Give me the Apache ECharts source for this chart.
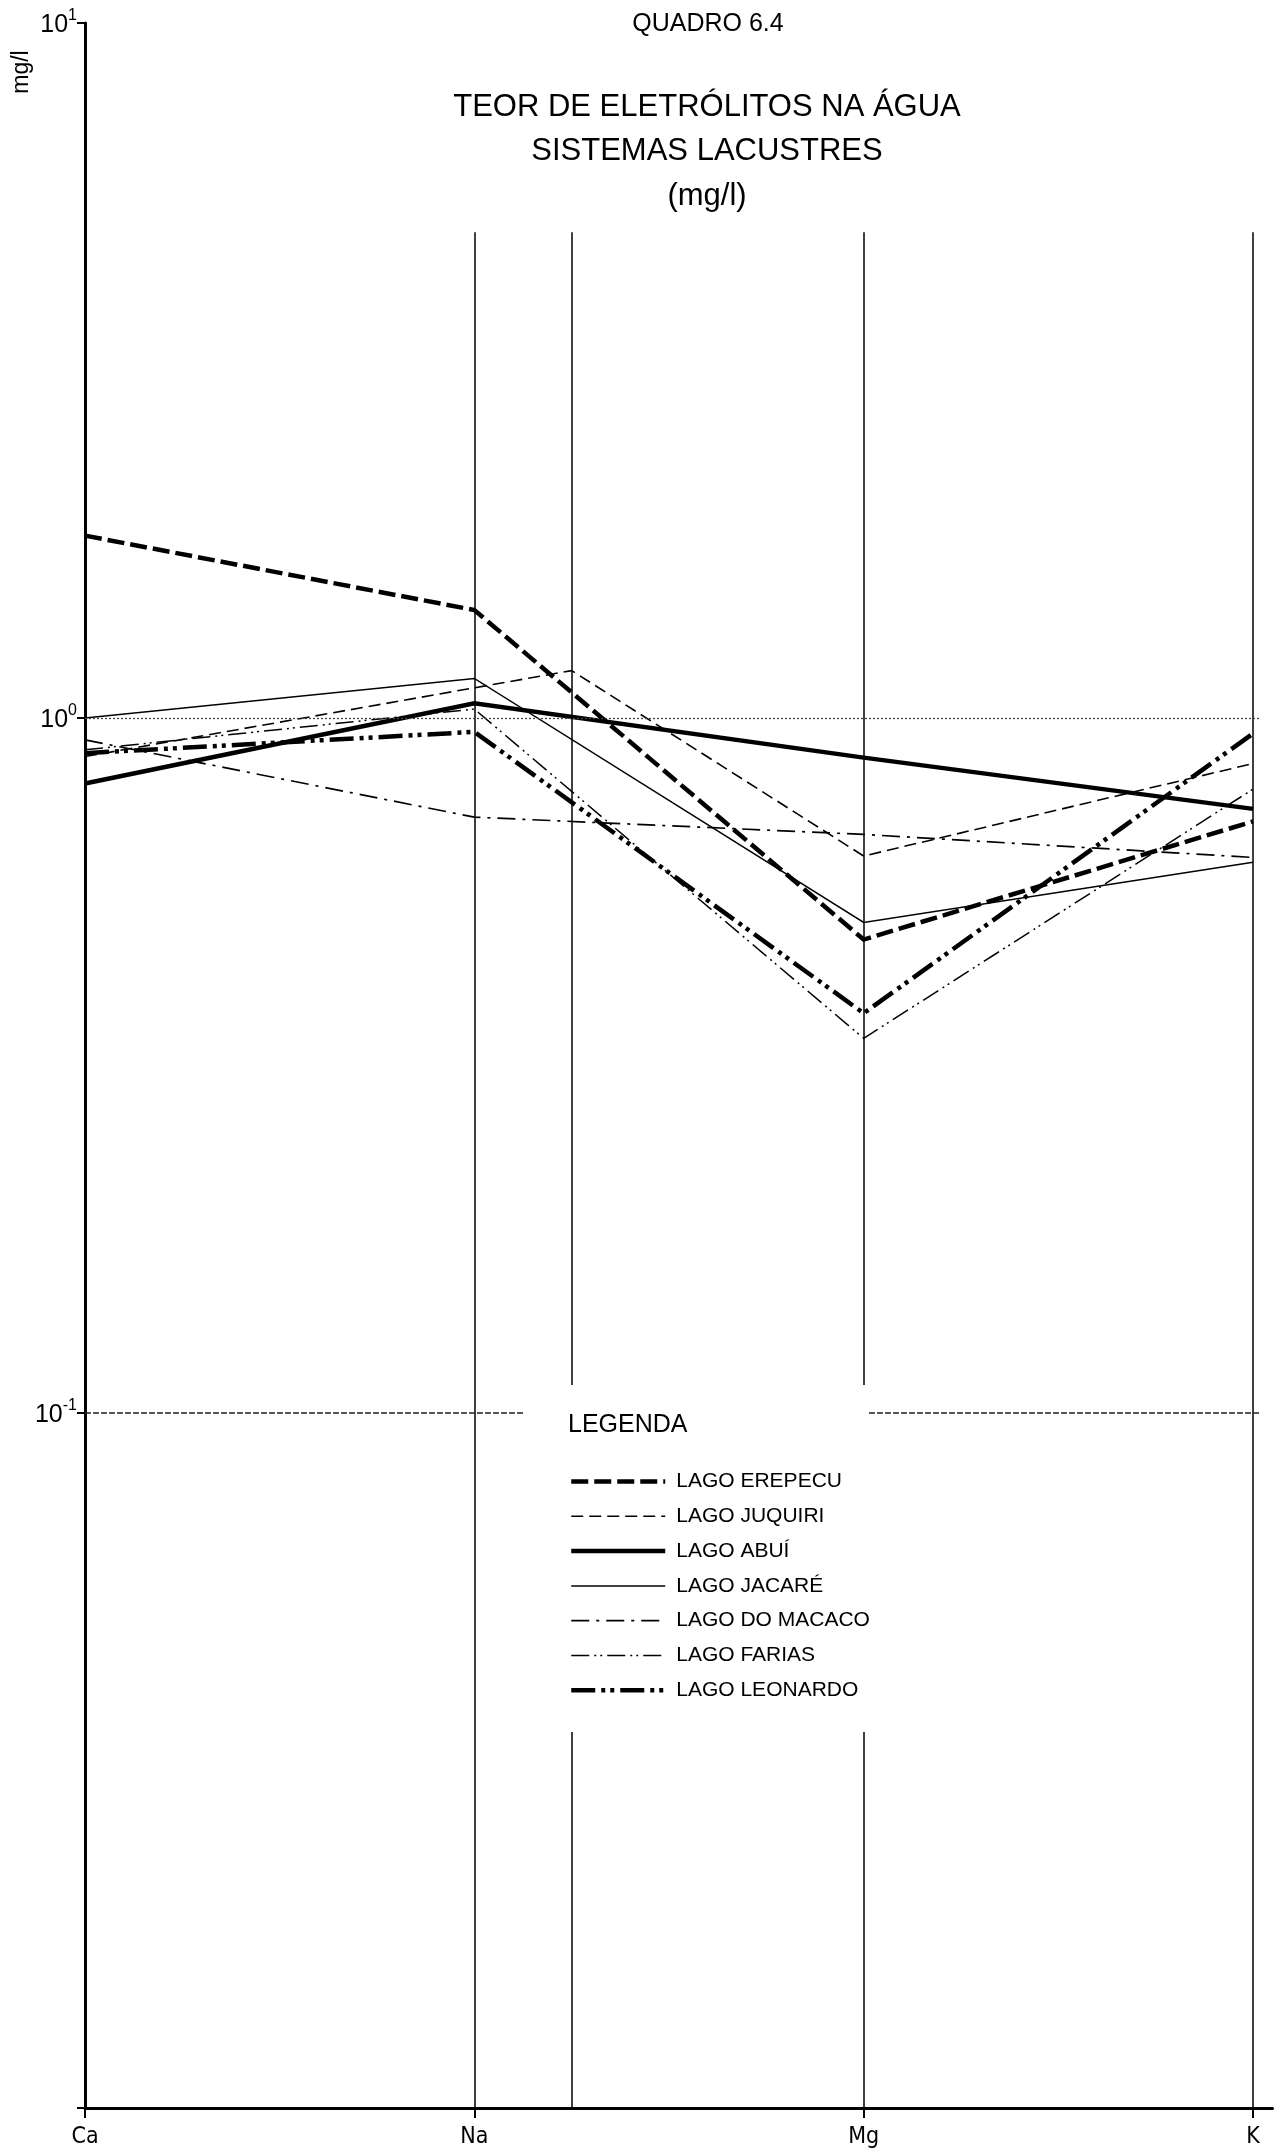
<!DOCTYPE html>
<html><head><meta charset="utf-8">
<script src="https://cdn.jsdelivr.net/npm/echarts@6/dist/echarts.min.js"></script>
<style>html,body{margin:0;padding:0;background:#fff}#chart{width:1281px;height:2154px}</style>
</head><body><div id="chart"></div>
<script>
// ---- data ----
const elements = ['Ca', 'Na', 'Mg', 'K'];
const elementX = [0, 1, 2, 3];
const juquiriX = [0, 1.25, 2, 3];          // Juquiri's Na point is drawn on the extra guide line
const lakeNames = ['LAGO EREPECU', 'LAGO JUQUIRI', 'LAGO ABUÍ', 'LAGO JACARÉ', 'LAGO DO MACACO', 'LAGO FARIAS', 'LAGO LEONARDO'];
const erepecu  = [1.83, 1.43, 0.48, 0.71];
const juquiri  = [0.88, 1.17, 0.633, 0.86];
const abui     = [0.805, 1.05, 0.877, 0.74];
const jacare   = [1.0, 1.14, 0.508, 0.62];
const macaco   = [0.93, 0.72, 0.68, 0.63];
const farias   = [0.90, 1.03, 0.346, 0.79];
const leonardo = [0.89, 0.955, 0.376, 0.95];
const guideX = [1, 1.25, 2, 3];
const guideTop = 5;
const yMin = 0.01, yMax = 10;
const xMin = 0, xMax = 3.05;
const refLines = [1, 0.1];
const refLineEnd = 3.02;

// ---- styles ----
const INK = '#000';
const FONT = "'Liberation Sans', Arial, sans-serif";
const seriesStyles = [
  { width: 4.5, type: [17, 6] },
  { width: 1.6, type: [12, 6] },
  { width: 4.5, type: 'solid' },
  { width: 1.5, type: 'solid' },
  { width: 1.7, type: [18, 7, 3, 7] },
  { width: 1.5, type: [18, 5, 2, 4, 2, 5] },
  { width: 4.5, type: [24, 6, 4, 5, 4, 6] }
];
const seriesX = [elementX, juquiriX, elementX, elementX, elementX, elementX, elementX];
const seriesY = [erepecu, juquiri, abui, jacare, macaco, farias, leonardo];

const pts = (xs, ys) => xs.map((x, i) => [x, ys[i]]);
const styleOf = i => ({ color: INK, width: seriesStyles[i].width, type: seriesStyles[i].type, cap: 'butt', join: 'miter' });

const lineSeries = lakeNames.map((name, i) => ({
  name, type: 'line', data: pts(seriesX[i], seriesY[i]),
  symbol: 'none', showSymbol: false, smooth: false, clip: false, z: 3,
  lineStyle: styleOf(i),
  emphasis: { disabled: true }
}));

const guideSeries = {
  name: 'guides', type: 'line', data: [], silent: true, z: 2,
  markLine: {
    silent: true, symbol: 'none', label: { show: false }, animation: false,
    data: [
      ...guideX.map(x => [{ coord: [x, yMin], lineStyle: { color: INK, width: 1.5, type: 'solid' } }, { coord: [x, guideTop] }]),
      [{ coord: [xMin, refLines[0]], lineStyle: { color: '#444', width: 1.3, type: [2, 2] } }, { coord: [refLineEnd, refLines[0]] }],
      [{ coord: [xMin, refLines[1]], lineStyle: { color: '#222', width: 1.5, type: [6, 2] } }, { coord: [refLineEnd, refLines[1]] }]
    ]
  }
};

const chart = echarts.init(document.getElementById('chart'), null, { renderer: 'canvas' });
chart.setOption({
  animation: false,
  backgroundColor: '#fff',
  title: [
    { text: 'QUADRO 6.4', left: 708, top: 12, textAlign: 'center', padding: 0,
      textStyle: { fontSize: 25, fontWeight: 'normal', color: INK, fontFamily: FONT } },
    { text: 'TEOR DE ELETRÓLITOS NA ÁGUA\nSISTEMAS LACUSTRES\n(mg/l)', left: 707, top: 85, textAlign: 'center', padding: 0,
      textStyle: { fontSize: 31, lineHeight: 44.5, fontWeight: 'normal', color: INK, fontFamily: FONT } }
  ],
  grid: { left: 85, right: 8.5, top: 23, bottom: 46, containLabel: false },
  xAxis: {
    type: 'value', min: xMin, max: xMax, interval: 1,
    axisLine: { lineStyle: { color: INK, width: 3 } },
    axisTick: { show: true, length: 10, customValues: elementX, lineStyle: { color: INK, width: 2 } },
    axisLabel: { margin: 18, fontSize: 23, color: INK, customValues: elementX,
      fontFamily: "'Liberation Sans Narrow', 'DejaVu Sans Condensed', 'Liberation Sans', sans-serif",
      formatter: v => { const k = elementX.indexOf(v); return k >= 0 ? elements[k] : ''; } },
    splitLine: { show: false }
  },
  yAxis: {
    type: 'log', logBase: 10, min: yMin, max: yMax,
    axisLine: { show: true, lineStyle: { color: INK, width: 3 } },
    axisTick: { show: true, length: 8, lineStyle: { color: INK, width: 2 } },
    minorTick: { show: false },
    splitLine: { show: false },
    axisLabel: {
      margin: 8, color: INK,
      formatter: v => { const e = Math.round(Math.log10(v)); return e < -1 ? '' : '{b|10}{s|' + e + '}'; },
      rich: {
        b: { fontSize: 25, fontFamily: FONT, color: INK, lineHeight: 30, verticalAlign: 'bottom' },
        s: { fontSize: 16, fontFamily: FONT, color: INK, lineHeight: 30, verticalAlign: 'top' }
      }
    }
  },
  legend: {
    data: lakeNames.map((name, i) => ({ name, lineStyle: styleOf(i), itemStyle: { opacity: 0 } })),
    orient: 'vertical', left: 569, top: 1471, padding: 0,
    itemWidth: 94, itemHeight: 20, itemGap: 13.8, selectedMode: false, z: 60,
    itemStyle: { opacity: 0 },
    textStyle: { fontSize: 21, color: INK, fontFamily: FONT, padding: [0, 0, 0, 6] }
  },
  graphic: [
    { type: 'rect', shape: { x: 523, y: 1385, width: 344, height: 347 }, style: { fill: '#fff' }, z: 50, silent: true },
    { type: 'text', x: 568, y: 1425, z: 60, style: { text: 'LEGENDA', fill: INK, font: "25px 'Liberation Sans', Arial, sans-serif", verticalAlign: 'middle' } },
    { type: 'text', x: 22, y: 72, rotation: Math.PI / 2, z: 60, style: { text: 'mg/l', fill: INK, font: "23px 'Liberation Sans', Arial, sans-serif", align: 'center', verticalAlign: 'middle' } }
  ],
  series: [guideSeries, ...lineSeries]
});
</script></body></html>
